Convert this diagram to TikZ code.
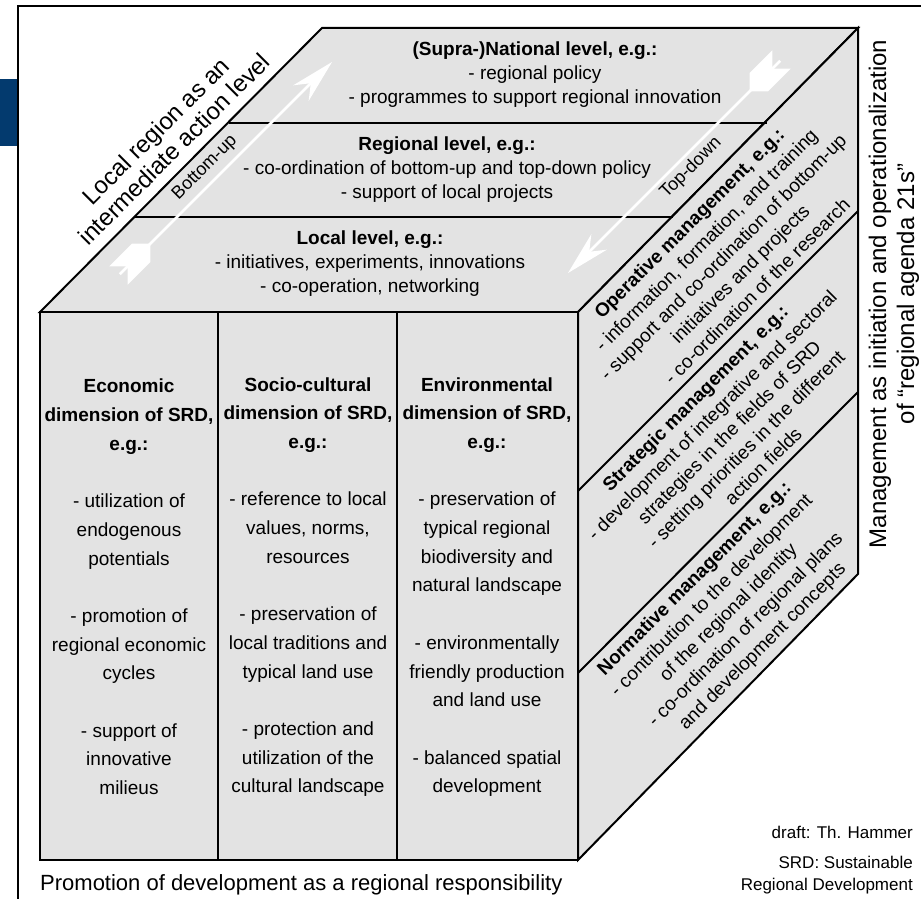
\documentclass[tikz,border=0pt]{standalone}
\usepackage{fontspec}
\setmainfont{Liberation Sans}
\usetikzlibrary{calc}
\definecolor{facegray}{HTML}{E3E3E3}
\definecolor{frameblue}{HTML}{033A6E}
\begin{document}
\begin{tikzpicture}[x=1pt,y=-1pt,
  face/.style={fill=facegray, draw=black, line width=2pt, line join=miter},
  edge/.style={draw=black, line width=2pt},
  body/.style={font=\fontsize{19}{24}\selectfont, align=center, inner sep=0pt},
  colbody/.style={font=\fontsize{19}{28.7}\selectfont, align=center, inner sep=0pt},
  sidelbl/.style={font=\fontsize{24}{26}\selectfont, align=center, inner sep=0pt},
  dirlbl/.style={font=\fontsize{18}{20}\selectfont, inner sep=0pt, rotate=45},
  smalllbl/.style={font=\fontsize{17}{22}\selectfont, align=right, inner sep=0pt},
  whitearrow/.style={white, line width=2.5pt},
  ]
\useasboundingbox (0,0) rectangle (921,899);
% frame
\fill[frameblue] (0,79) rectangle (17,146);
\coordinate (fr1) at (18,899);
\coordinate (fr2) at (18,6);
\coordinate (fr3) at (921,6);
\draw[line width=2.5pt] (fr1) -- (fr2) -- (fr3);
% cube corners
\coordinate (F1) at (40,312);
\coordinate (F2) at (578,312);
\coordinate (F3) at (578,860);
\coordinate (F4) at (40,860);
\coordinate (B1) at (322,28);
\coordinate (B2) at (858,28);
\coordinate (B3) at (858,574);
% faces
\path[face] (F1) -- (B1) -- (B2) -- (F2) -- cycle;
\path[face] (F2) -- (B2) -- (B3) -- (F3) -- cycle;
\path[face] (F1) rectangle (F3);
% top face divisions
\coordinate (t1l) at (229,123); \coordinate (t1r) at (767,123);
\coordinate (t2l) at (135,217); \coordinate (t2r) at (673,217);
\draw[edge] (t1l) -- (t1r);
\draw[edge] (t2l) -- (t2r);
% right face divisions
\coordinate (r1b) at (858,211); \coordinate (r1f) at (578,491);
\coordinate (r2b) at (858,392); \coordinate (r2f) at (578,673);
\draw[edge] (r1b) -- (r1f);
\draw[edge] (r2b) -- (r2f);
% front columns
\coordinate (c1t) at (218,312); \coordinate (c1b) at (218,860);
\coordinate (c2t) at (397,312); \coordinate (c2b) at (397,860);
\draw[edge] (c1t) -- (c1b);
\draw[edge] (c2t) -- (c2b);
% Bottom-up arrow
\begin{scope}[shift={(332,62)}, rotate=45]
  \coordinate (buTip) at (0,0);
  \coordinate (buTail) at (-300,0);
  \coordinate (buNeck) at (-30,0);
  \draw[whitearrow] (buTail) -- (buNeck);
  \fill[white] (buTip) -- (-44,11) -- (buNeck) -- (-44,-11) -- cycle;
  \fill[white] (-302,13) -- (-270,13) -- (-258,1) -- (-290,1) -- cycle;
  \fill[white] (-302,-13) -- (-270,-13) -- (-258,-1) -- (-290,-1) -- cycle;
\end{scope}
% Top-down arrow
\begin{scope}[shift={(568,273)}, rotate=225]
  \coordinate (tdTip) at (0,0);
  \coordinate (tdTail) at (-300,0);
  \coordinate (tdNeck) at (-30,0);
  \draw[whitearrow] (tdTail) -- (tdNeck);
  \fill[white] (tdTip) -- (-44,11) -- (tdNeck) -- (-44,-11) -- cycle;
  \fill[white] (-302,13) -- (-270,13) -- (-258,1) -- (-290,1) -- cycle;
  \fill[white] (-302,-13) -- (-270,-13) -- (-258,-1) -- (-290,-1) -- cycle;
\end{scope}
% top face texts
\node[body] (supra) at (535,75) {\textbf{(Supra-)National level, e.g.:}\\- regional policy\\- programmes to support regional innovation};
\node[body] (regional) at (447,169.5) {\textbf{Regional level, e.g.:}\\- co-ordination of bottom-up and top-down policy\\- support of local projects};
\node[body] (local) at (370,264) {\textbf{Local level, e.g.:}\\- initiatives, experiments, innovations\\- co-operation, networking};
% direction labels
\node[dirlbl] (bulbl) at (205,168) {Bottom-up};
\node[dirlbl] (tdlbl) at (691,168) {Top-down};
% left side label
\node[sidelbl, rotate=45] (leftlbl) at (165,140) {Local region as an\\intermediate action level};
% right side label
\node[font=\fontsize{24}{28}\selectfont, align=center, inner sep=0pt, rotate=90] (rightlbl) at (894,294) {Management as initiation and operationalization\\of “regional agenda 21s”};
% right face texts
\node[body, rotate=45] (oper) at (723,257) {\textbf{Operative management, e.g.:}\\- information, formation, and training\\- support and co-ordination of bottom-up\\initiatives and projects\\- co-ordination of the research};
\node[body, rotate=45] (strat) at (729,432) {\textbf{Strategic management, e.g.:}\\- development of integrative and sectoral\\strategies in the fields of SRD\\- setting priorities in the different\\action fields};
\node[body, rotate=45] (norm) at (729,613) {\textbf{Normative management, e.g.:}\\- contribution to the development\\of the regional identity\\- co-ordination of regional plans\\and development concepts};
% front columns texts
\node[colbody] (econ) at (129,587) {\textbf{Economic}\\\textbf{dimension of SRD,}\\\textbf{e.g.:}\\[28.7pt]- utilization of\\endogenous\\potentials\\[28.7pt]- promotion of\\regional economic\\cycles\\[28.7pt]- support of\\innovative\\milieus};
\node[colbody] (socio) at (308,587) {\textbf{Socio-cultural}\\\textbf{dimension of SRD,}\\\textbf{e.g.:}\\[28.7pt]- reference to local\\values, norms,\\resources\\[28.7pt]- preservation of\\local traditions and\\typical land use\\[28.7pt]- protection and\\utilization of the\\cultural landscape};
\node[colbody] (env) at (487,587) {\textbf{Environmental}\\\textbf{dimension of SRD,}\\\textbf{e.g.:}\\[28.7pt]- preservation of\\typical regional\\biodiversity and\\natural landscape\\[28.7pt]- environmentally\\friendly production\\and land use\\[28.7pt]- balanced spatial\\development};
% bottom texts
\node[font=\fontsize{22}{24}\selectfont, inner sep=0pt, anchor=west] (promo) at (40,885) {Promotion of development as a regional responsibility};
\node[smalllbl, anchor=east] (draft) at (913,832) {draft: Th. Hammer};
\node[smalllbl, anchor=east] (srd) at (913,875) {SRD: Sustainable\\Regional Development};
\end{tikzpicture}
\end{document}
